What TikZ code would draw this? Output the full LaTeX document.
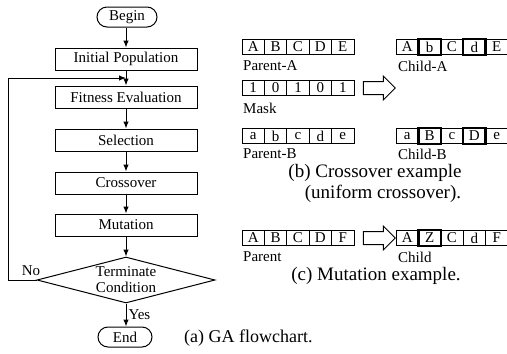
\documentclass[tikz,border=0pt]{standalone}
\usepackage{fontspec}
\setmainfont{Liberation Serif}
\usetikzlibrary{shapes.geometric,shapes.arrows,shapes.misc,arrows.meta}
\begin{document}
\begin{tikzpicture}[x=1pt,y=-1pt,
  every node/.style={font=\fontsize{15}{16}\selectfont},
  proc/.style={draw,line width=1pt,minimum width=142pt,minimum height=22pt,inner sep=0pt},
  stad/.style={draw,line width=1pt,rounded rectangle,minimum height=20pt,inner sep=0pt},
  flow/.style={line width=1pt,-{Latex[length=7pt,width=5.5pt]}},
  cell/.style={draw,line width=0.9pt,minimum width=22.4pt,minimum height=15.5pt,inner sep=0pt,font=\fontsize{15}{15}\selectfont},
  hcell/.style={cell,line width=2.4pt},
  lab/.style={anchor=west,inner sep=0pt,font=\fontsize{15}{15}\selectfont},
  captxt/.style={inner sep=0pt,font=\fontsize{19}{19}\selectfont},
  bigarrow/.style={draw,line width=1pt,single arrow,minimum height=32pt,inner xsep=0pt,inner ysep=6pt,single arrow head extend=5.5pt}
]
\useasboundingbox (0,0) rectangle (507,354);

% flowchart
\node[stad,minimum width=60pt] (begin) at (127,17) {Begin};
\node[proc] (init) at (126,59) {Initial Population};
\node[proc] (fit) at (126,97) {Fitness Evaluation};
\node[proc] (sel) at (126,140) {Selection};
\node[proc] (cross) at (126,183) {Crossover};
\node[proc] (mut) at (126,225) {Mutation};
\node[draw,diamond,line width=1pt,minimum width=178pt,minimum height=46pt,inner sep=0pt] (term) at (126,280) {};
\node[align=center,inner sep=0pt,font=\fontsize{15}{16}\selectfont] (termtxt) at (term.center) {Terminate\\Condition};
\node[stad,minimum width=54pt] (end) at (125,337) {End};

\coordinate (join) at (126,78);
\coordinate (fbc) at (8,280);
\draw[flow] (begin.south -| init.north) -- (init.north);
\draw[flow] (init) -- (fit);
\draw[flow] (fit) -- (sel);
\draw[flow] (sel) -- (cross);
\draw[flow] (cross) -- (mut);
\draw[flow] (mut) -- (term.north);
\draw[flow] (term.south) -- node[right=2pt,inner sep=0pt] (yes) {Yes} (term.south |- end.north);
\draw[flow] (term.west) -- (fbc) |- (join);
\node[inner sep=0pt] (no) at (31,271) {No};
\node[captxt,anchor=west,font=\fontsize{18}{18}\selectfont] (capa) at (184,338) {(a) GA flowchart.};

% crossover example
\foreach \t/\s [count=\i] in {A/cell,B/cell,C/cell,D/cell,E/cell}
  \node[\s] (pa\i) at ({253.2+(\i-1)*22.4},47) {\t};
\foreach \t/\s [count=\i] in {A/cell,b/hcell,C/cell,d/hcell,E/cell}
  \node[\s] (ca\i) at ({407.2+(\i-1)*22.4},47) {\t};
\node[lab] (lpa) at (243,66) {Parent-A};
\node[lab] (lca) at (398,66) {Child-A};
\foreach \t/\s [count=\i] in {1/cell,0/cell,1/cell,0/cell,1/cell}
  \node[\s] (mk\i) at ({253.2+(\i-1)*22.4},88) {\t};
\node[lab] (lmk) at (243,108) {Mask};
\node[bigarrow] (arr1) at (376,88) {};
\foreach \t/\s [count=\i] in {a/cell,b/cell,c/cell,d/cell,e/cell}
  \node[\s] (pb\i) at ({253.2+(\i-1)*22.4},136) {\t};
\foreach \t/\s [count=\i] in {a/cell,B/hcell,c/cell,D/hcell,e/cell}
  \node[\s] (cb\i) at ({407.2+(\i-1)*22.4},136) {\t};
\node[lab] (lpb) at (243,154) {Parent-B};
\node[lab] (lcb) at (398,154) {Child-B};
\node[captxt] (capb1) at (375,173) {(b) Crossover example};
\node[captxt] (capb2) at (383,194) {(uniform crossover).};

% mutation example
\foreach \t/\s [count=\i] in {A/cell,B/cell,C/cell,D/cell,F/cell}
  \node[\s] (pm\i) at ({253.2+(\i-1)*22.4},238) {\t};
\node[bigarrow] (arr2) at (376,238) {};
\foreach \t/\s [count=\i] in {A/cell,Z/hcell,C/cell,d/cell,F/cell}
  \node[\s] (cm\i) at ({407.2+(\i-1)*22.4},238) {\t};
\node[lab] (lpm) at (243,257) {Parent};
\node[lab] (lcm) at (398,257) {Child};
\node[captxt] (capc) at (376,276) {(c) Mutation example.};
\end{tikzpicture}
\end{document}
